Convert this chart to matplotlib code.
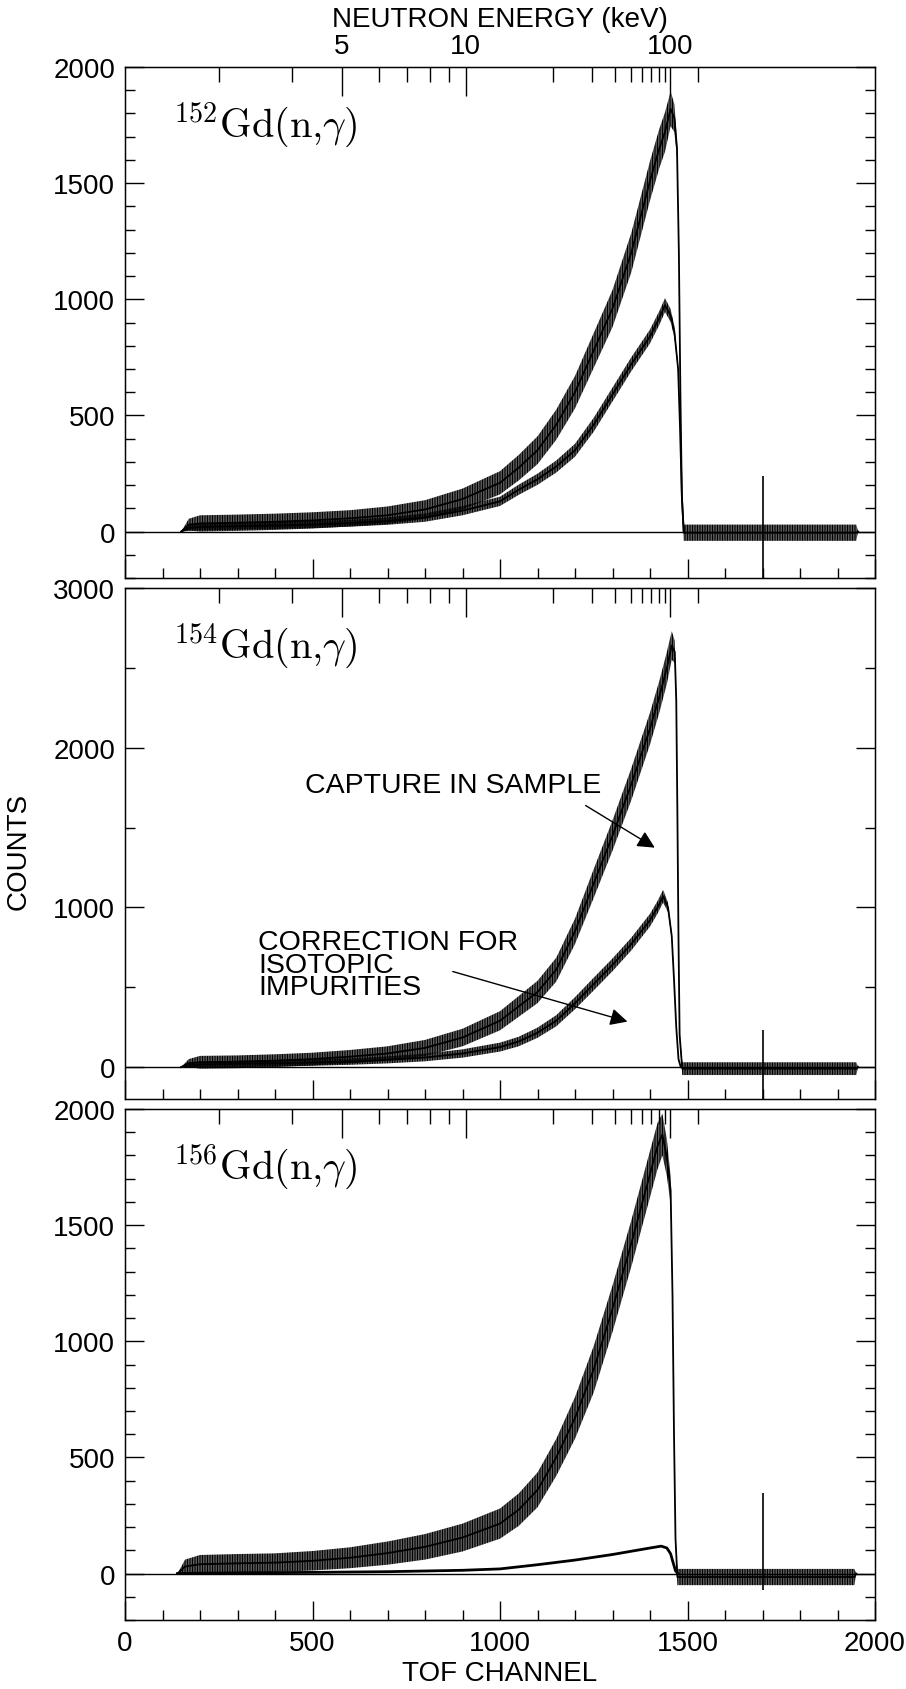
import numpy as np
import matplotlib
matplotlib.use('Agg')
import matplotlib.pyplot as plt
from matplotlib.ticker import MultipleLocator

plt.rcParams['font.family'] = ['Liberation Sans', 'DejaVu Sans']
plt.rcParams['mathtext.fontset'] = 'cm'
plt.rcParams['hatch.linewidth'] = 0.95

# ---------------- data ----------------
# Panel 1: 152Gd(n,g)
P1_CH_S = [150, 170, 200, 300, 400, 500, 600, 700, 800, 900, 1000, 1050, 1100, 1150, 1200, 1250,
           1300, 1350, 1400, 1425, 1440, 1455, 1465, 1472, 1477, 1481, 1485, 1490, 1550, 1650, 1750,
           1850, 1950, 1955]
P1_S = [0, 30, 35, 38, 42, 48, 57, 70, 95, 140, 210, 275, 350, 460, 600, 780, 960, 1200, 1510, 1650,
        1720, 1820, 1780, 1650, 1200, 600, 150, -5, -5, -5, -5, -5, -5, 0]
P1_S_SPREAD = [0, 25, 35, 35, 35, 35, 35, 38, 40, 45, 50, 55, 60, 65, 70, 75, 80, 85, 85, 85,
               85, 75, 60, 40, 20, 20, 25, 35, 35, 35, 35, 35, 35, 0]
P1_CH_C = [150, 170, 200, 300, 400, 500, 600, 700, 800, 900, 1000, 1050, 1100, 1150, 1200, 1250,
           1300, 1350, 1400, 1425, 1440, 1455, 1465, 1475, 1480, 1485, 1490]
P1_C = [0, 15, 20, 23, 26, 30, 36, 45, 60, 90, 130, 180, 225, 280, 350, 460, 590, 720, 840, 920,
        975, 930, 860, 700, 450, 150, 0]
P1_C_SPREAD = [0, 12, 15, 15, 15, 15, 15, 16, 18, 20, 20, 22, 24, 26, 28, 30, 30, 30, 30, 30,
               30, 28, 25, 15, 10, 8, 0]

# Panel 2: 154Gd(n,g)
P2_CH_S = [150, 170, 200, 300, 400, 500, 600, 700, 800, 900, 1000, 1050, 1100, 1150, 1200, 1250,
           1300, 1350, 1400, 1425, 1445, 1458, 1466, 1470, 1473, 1476, 1479, 1486, 1550, 1650, 1750,
           1850, 1950, 1955]
P2_S = [0, 25, 30, 33, 40, 50, 65, 85, 120, 185, 290, 380, 470, 610, 850, 1150, 1450, 1770, 2120,
        2320, 2500, 2640, 2600, 2300, 1600, 800, 200, -10, -10, -10, -10, -10, -10, 0]
P2_S_SPREAD = [0, 25, 40, 40, 40, 40, 42, 45, 50, 55, 60, 65, 70, 75, 80, 90, 95, 100, 100, 100,
               100, 90, 70, 50, 30, 30, 30, 40, 40, 40, 40, 40, 40, 0]
P2_CH_C = [150, 170, 200, 300, 400, 500, 600, 700, 800, 900, 1000, 1050, 1100, 1150, 1200, 1250,
           1300, 1350, 1400, 1420, 1435, 1448, 1458, 1464, 1470, 1476, 1482]
P2_C = [0, 10, 15, 20, 24, 28, 34, 45, 60, 85, 125, 160, 215, 290, 400, 520, 640, 770, 920, 1000,
        1070, 1000, 820, 550, 250, 50, 0]
P2_C_SPREAD = [0, 10, 20, 20, 20, 20, 20, 22, 24, 26, 28, 30, 32, 35, 38, 40, 40, 40, 40, 40,
               40, 30, 20, 12, 10, 8, 0]

# Panel 3: 156Gd(n,g)
P3_CH_S = [140, 160, 200, 300, 400, 500, 600, 700, 800, 900, 1000, 1050, 1100, 1150, 1200, 1250,
           1300, 1350, 1400, 1420, 1433, 1445, 1455, 1460, 1464, 1468, 1473, 1550, 1650, 1750,
           1850, 1945, 1950]
P3_S = [0, 30, 40, 44, 47, 55, 68, 88, 115, 155, 215, 275, 360, 500, 670, 880, 1140, 1420, 1720,
        1840, 1890, 1790, 1650, 1200, 600, 150, -15, -15, -15, -15, -15, -15, 0]
P3_S_SPREAD = [0, 30, 40, 40, 40, 42, 45, 50, 55, 60, 65, 70, 75, 80, 90, 100, 100, 100, 100, 100,
               90, 80, 60, 30, 25, 25, 35, 35, 35, 35, 35, 35, 0]
P3_CH_C = [140, 300, 500, 700, 900, 1000, 1100, 1200, 1300, 1400, 1430, 1445, 1455, 1462, 1468, 1474]
P3_C = [0, 3, 5, 8, 14, 20, 38, 58, 82, 110, 118, 110, 85, 45, 12, 0]

# gamma-flash spike (channel, top, bottom) per panel
FLASH_CH = 1702
FLASH_HI = [240, 230, 345]
FLASH_LO = [-200, -200, -70]

LABELS = [r'$^{152}\mathrm{Gd}(\mathrm{n}{,}\gamma)$',
          r'$^{154}\mathrm{Gd}(\mathrm{n}{,}\gamma)$',
          r'$^{156}\mathrm{Gd}(\mathrm{n}{,}\gamma)$']
YLIMS = [(-200, 2000), (-200, 3000), (-200, 2000)]
YMAJOR = [500, 1000, 500]
YMINOR = [100, 500, 100]

# neutron energy axis (keV) and TOF calibration
E_MAJOR = [5, 10, 100]
E_MINOR = [3, 4, 6, 7, 8, 9, 20, 30, 40, 50, 60, 70, 80, 90, 200]
CAL_C0 = 1705.0
CAL_A = 2520.0


def e_to_ch(e):
    return CAL_C0 - CAL_A / np.sqrt(np.asarray(e, dtype=float))


SERIES = [
    [(P1_CH_S, P1_S, P1_S_SPREAD), (P1_CH_C, P1_C, P1_C_SPREAD)],
    [(P2_CH_S, P2_S, P2_S_SPREAD), (P2_CH_C, P2_C, P2_C_SPREAD)],
    [(P3_CH_S, P3_S, P3_S_SPREAD)],
]

# ---------------- figure ----------------
FW, FH = 906, 1690
fig = plt.figure(figsize=(FW / 100, FH / 100), dpi=100)
LEFT, WIDTH = 125, 750
TOPS = [68, 589, 1110]
HEIGHT = 511
FS = 20

axes = []
for i in range(3):
    ax = fig.add_axes([LEFT / FW, 1 - (TOPS[i] + HEIGHT) / FH, WIDTH / FW, HEIGHT / FH])
    axes.append(ax)
    ax.set_xlim(0, 2000)
    ax.set_ylim(*YLIMS[i])
    ax.axhline(0, color='black', lw=1.0, zorder=1)
    for ch, m, s in SERIES[i]:
        ch = np.asarray(ch, float)
        m = np.asarray(m, float)
        s = np.asarray(s, float)
        ax.fill_between(ch, m - s, m + s, facecolor='none', edgecolor='black',
                        hatch='|' * 10, linewidth=0, zorder=2)
        ax.plot(ch, m, color='black', lw=1.3, zorder=3)
    if i == 2:
        ax.plot(P3_CH_C, P3_C, color='black', lw=2.0, zorder=3)
    ax.vlines(FLASH_CH, FLASH_LO[i], FLASH_HI[i], color='black', lw=1.2, zorder=3)

    ax.xaxis.set_major_locator(MultipleLocator(500))
    ax.xaxis.set_minor_locator(MultipleLocator(100))
    ax.yaxis.set_major_locator(MultipleLocator(YMAJOR[i]))
    ax.yaxis.set_minor_locator(MultipleLocator(YMINOR[i]))
    ax.tick_params(which='both', direction='in', top=False, right=True, width=1.0,
                   labelsize=FS, colors='black')
    ax.tick_params(which='major', length=14, pad=7)
    ax.tick_params(which='minor', length=7)
    if i < 2:
        ax.tick_params(labelbottom=False)
    for sp in ax.spines.values():
        sp.set_linewidth(1.0)

    ax.text(0.064, 0.888, LABELS[i], transform=ax.transAxes, fontsize=29,
            ha='left', va='center')

    axt = ax.twiny()
    axt.set_xlim(0, 2000)
    axt.set_xticks(e_to_ch(E_MAJOR))
    axt.set_xticks(e_to_ch(E_MINOR), minor=True)
    axt.tick_params(which='both', direction='in', width=1.0, labelsize=FS)
    axt.tick_params(which='major', length=21, pad=6)
    axt.tick_params(which='minor', length=11)
    if i == 0:
        axt.set_xticklabels([str(e) for e in E_MAJOR])
        axt.set_xlabel('NEUTRON ENERGY (keV)', fontsize=FS, labelpad=5)
    else:
        axt.set_xticklabels([])

axes[2].set_xlabel('TOF CHANNEL', fontsize=FS, labelpad=3)
fig.text(19 / FW, 1 - 851 / FH, 'COUNTS', rotation=90, fontsize=FS, ha='center', va='center')

ax2 = axes[1]
ax2.text(480, 1766, 'CAPTURE IN SAMPLE', fontsize=20.5, ha='left', va='center')
ax2.annotate('', xy=(1419, 1365), xytext=(1222, 1647),
             arrowprops=dict(arrowstyle='-|>', color='black', lw=1.0, mutation_scale=26))
ax2.text(355, 642, 'CORRECTION FOR\nISOTOPIC\nIMPURITIES', fontsize=20.5, ha='left',
         va='center', linespacing=0.82)
ax2.annotate('', xy=(1347, 280), xytext=(867, 603),
             arrowprops=dict(arrowstyle='-|>', color='black', lw=1.0, mutation_scale=26))

fig.savefig('out.png', dpi=100)
